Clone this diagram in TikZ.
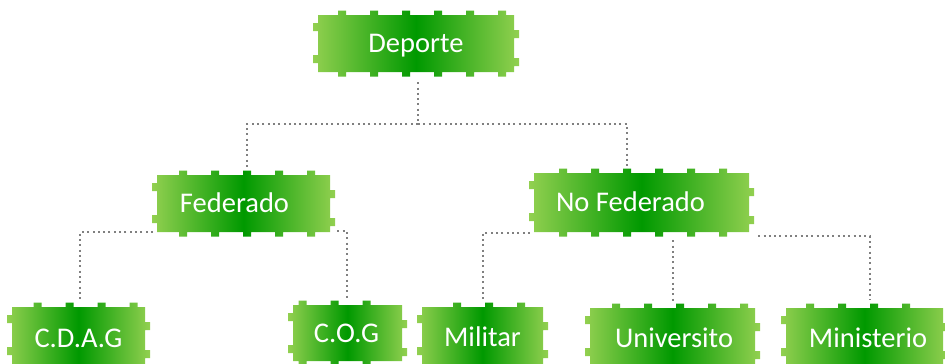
\documentclass[tikz,border=0pt]{standalone}
\usepackage{fontspec}
\setmainfont{Carlito}
\definecolor{dgreen}{RGB}{0,153,0}
\definecolor{lgreen}{RGB}{146,208,80}
\definecolor{dotgray}{RGB}{128,128,128}
\tikzset{
  pzshade/.style={left color=lgreen, right color=lgreen, middle color=dgreen},
  pzn/.style={text=white, font=\fontsize{28.5}{30}\selectfont, inner sep=0pt, text height=18.5pt, text depth=0pt},
  conn/.style={draw=dotgray, line width=2pt, dash pattern=on 2pt off 3.3pt},
}
\newcommand\pzbox[8]{% name, cx, cy, w, h, text shift, bump offset, text
  \pgfmathsetmacro\pxa{#2-#4/2}%
  \pgfmathsetmacro\pxb{#2+#4/2}%
  \pgfmathsetmacro\pya{#3-#5/2}%
  \pgfmathsetmacro\pyb{#3+#5/2}%
  \pgfmathtruncatemacro\pnb{(#4-#7-6)/32}%
  \pgfmathsetmacro\pkl{max(0,2*#6)}%
  \pgfmathsetmacro\pkr{max(0,-2*#6)}%
  \shade[pzshade] (\pxa,\pya) rectangle (\pxb,\pyb)
    \foreach \k in {0,...,\pnb} {
      ({\pxa+#7+32*\k-4},\pya) rectangle ({\pxa+#7+32*\k+4},{\pya-4.5})
      ({\pxa+#7+32*\k-4},\pyb) rectangle ({\pxa+#7+32*\k+4},{\pyb+4.5})
    }
    (\pxa,{\pya+8}) rectangle ({\pxa-5},{\pya+16})
    (\pxa,{\pya+40}) rectangle ({\pxa-5},{\pya+48})
    (\pxb,{\pya+15}) rectangle ({\pxb+5},{\pya+23})
    (\pxb,{\pya+43}) rectangle ({\pxb+5},{\pya+51});
  \node[pzn, minimum width=#4pt, minimum height=#5pt] (#1) at (#2,#3) {\kern\pkl pt #8\kern\pkr pt};
}
\begin{document}
\begin{tikzpicture}[x=1pt, y=-1pt]
\useasboundingbox (0,0) rectangle (945,364);
\pzbox{dep}{416}{43.5}{196}{57}{0}{24}{Deporte}
\pzbox{fed}{243.5}{203.5}{173}{57}{-9}{26}{Federado}
\pzbox{nof}{641.5}{202.5}{215}{59}{-11}{29}{No Federado}
\pzbox{cdag}{78.5}{338}{133}{62}{0}{25.5}{C.D.A.G}
\pzbox{cog}{347.5}{333}{109}{56}{-1}{9.5}{C.O.G}
\pzbox{mil}{482.5}{337}{121}{60}{0}{35}{Militar}
\pzbox{uni}{672.5}{338}{165}{60}{1.5}{26}{Universito}
\pzbox{min}{864.5}{338.5}{157}{61}{3.5}{24}{Ministerio}
\coordinate (j1) at (418,124);
\draw[conn, shorten <=10pt] ([xshift=2pt]dep.south) -- (j1);
\draw[conn, shorten >=8pt] (j1) -| ([xshift=3.5pt]fed.north);
\draw[conn, shorten >=6pt] (j1) -| ([xshift=-14.5pt]nof.north);
\draw[conn, shorten >=6pt] ([xshift=-4pt]fed.south west) -| ([xshift=1.5pt]cdag.north);
\draw[conn, shorten >=7pt] ([xshift=7pt, yshift=1pt]fed.south east) -| ([xshift=-0.5pt]cog.north);
\draw[conn, shorten >=6pt] ([xshift=-4pt, yshift=-1pt]nof.south west) -| (mil.north);
\coordinate (m1) at (uni.north |- nof.south);
\draw[conn, shorten >=5pt] ([yshift=-8pt]m1) -- (uni.north);
\draw[conn, shorten >=8pt] ([xshift=9pt, yshift=-4pt]nof.south east) -| ([xshift=5.5pt]min.north);
\end{tikzpicture}
\end{document}
